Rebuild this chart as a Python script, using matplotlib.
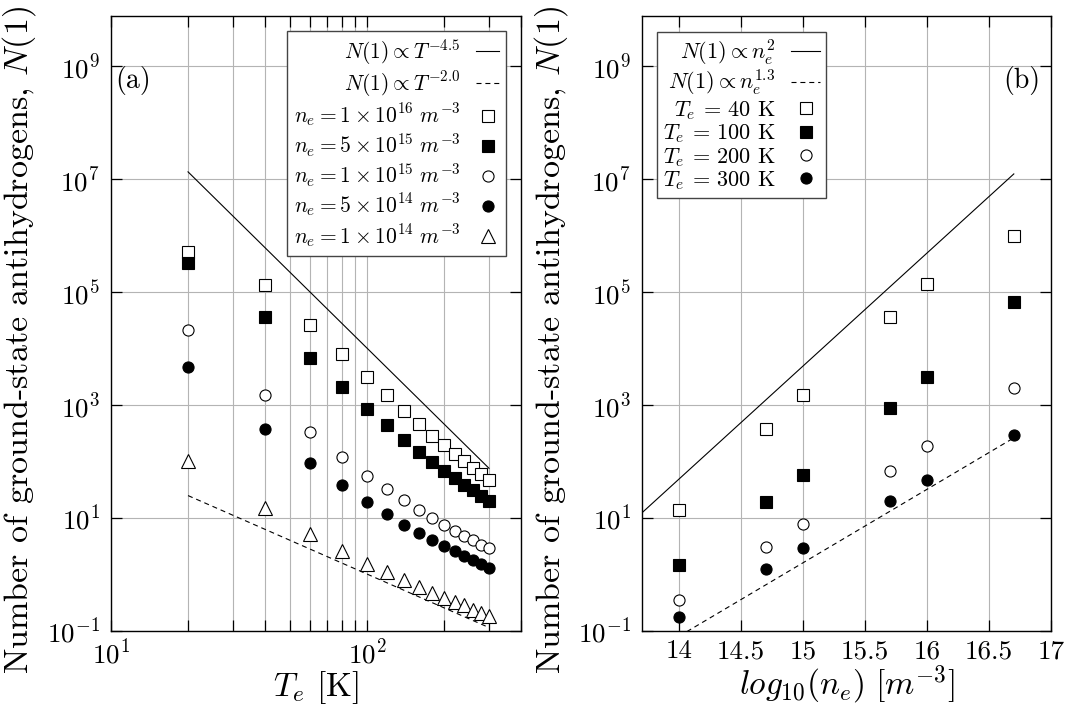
import matplotlib
matplotlib.use("Agg")
import matplotlib.pyplot as plt
from matplotlib.ticker import FixedLocator, NullLocator, NullFormatter, MultipleLocator, LogLocator, FuncFormatter

# ---------------- data: panel (a) ----------------
T_a = [20, 40, 60, 80, 100, 120, 140, 160, 180, 200, 220, 240, 260, 280, 300]
n_1e16 = [5.1e5, 1.35e5, 2.6e4, 7.9e3, 3.2e3, 1.5e3, 780, 460, 280, 195, 138, 102, 78, 60, 48]
n_5e15 = [3.3e5, 3.6e4, 6.9e3, 2.1e3, 870, 440, 240, 150, 100, 69, 51, 39, 31, 25, 20]
n_1e15 = [2.1e4, 1.5e3, 330, 120, 56, 33, 21, 13.8, 10, 7.6, 5.9, 4.8, 4.1, 3.4, 2.95]
n_5e14 = [4.8e3, 380, 93, 38, 19, 11.7, 7.6, 5.4, 4.1, 3.2, 2.6, 2.1, 1.78, 1.51, 1.29]
n_1e14 = [102, 14.8, 5.2, 2.6, 1.55, 1.1, 0.79, 0.60, 0.48, 0.38, 0.33, 0.29, 0.24, 0.21, 0.186]
fitA_T = [20, 300]
fitA_solid = [1.35e7, 76]      # N(1) ~ T^-4.5
fitA_dashed = [25, 0.115]      # N(1) ~ T^-2.0

# ---------------- data: panel (b) ----------------
log_ne = [14, 14.7, 15, 15.7, 16, 16.7]
T40 = [13.8, 370, 1.5e3, 3.6e4, 1.38e5, 9.8e5]
T100 = [1.45, 19, 58, 890, 3.2e3, 6.6e4]
T200 = [0.36, 3.1, 7.8, 69, 190, 2.0e3]
T300 = [0.178, 1.26, 2.9, 20, 47, 295]
fitB_solid_x = [13.7, 16.7]
fitB_solid = [12.4, 1.24e7]    # N(1) ~ n_e^2
fitB_dashed_x = [14, 16.7]
fitB_dashed = [0.081, 263]     # N(1) ~ n_e^1.3

yticks = [1e-1, 1e1, 1e3, 1e5, 1e7, 1e9]

plt.rcParams.update({
    "font.family": "cmr10",
    "mathtext.fontset": "cm",
    "axes.formatter.use_mathtext": True,
    "axes.linewidth": 1.0,
})

W, H = 1067, 709
fig = plt.figure(figsize=(W / 100, H / 100), dpi=100)
axA = fig.add_axes([111 / W, 78 / H, 410 / W, 615 / H])
axB = fig.add_axes([642 / W, 78 / H, 409 / W, 615 / H])

gridc = "#b4b4b4"
ms_sq, ms_c, ms_t = 8.5, 8.0, 9.5
mew = 0.8
dash = (0, (4.5, 3.5))


def open_kw(m, ms):
    return dict(ls="none", marker=m, ms=ms, mfc="white", mec="black", mew=mew)


def fill_kw(m, ms):
    return dict(ls="none", marker=m, ms=ms, mfc="black", mec="black", mew=mew)


leg_common = dict(markerfirst=False, numpoints=1, fancybox=False, edgecolor="#444444",
                  framealpha=1, borderaxespad=0.0)

# ---- panel (a)
axA.plot(fitA_T, fitA_solid, color="black", lw=0.8, label=r"$N(1)\propto T^{-4.5}$")
axA.plot(fitA_T, fitA_dashed, color="black", lw=0.8, ls=dash, label=r"$N(1)\propto T^{-2.0}$")
axA.plot(T_a, n_1e16, label=r"$n_e = 1\times10^{16}\ m^{-3}$", **open_kw("s", ms_sq))
axA.plot(T_a, n_5e15, label=r"$n_e = 5\times10^{15}\ m^{-3}$", **fill_kw("s", ms_sq - 0.5))
axA.plot(T_a, n_1e15, label=r"$n_e = 1\times10^{15}\ m^{-3}$", **open_kw("o", ms_c))
axA.plot(T_a, n_5e14, label=r"$n_e = 5\times10^{14}\ m^{-3}$", **fill_kw("o", ms_c))
axA.plot(T_a, n_1e14, label=r"$n_e = 1\times10^{14}\ m^{-3}$", **open_kw("^", ms_t))
axA.set_xscale("log")
axA.set_yscale("log")
axA.set_xlim(10, 400)
axA.set_ylim(0.1, 10 ** 9.89)
axA.xaxis.set_major_locator(LogLocator(base=10, numticks=10))
axA.xaxis.set_minor_locator(LogLocator(base=10, subs=range(2, 10), numticks=20))
axA.xaxis.set_minor_formatter(NullFormatter())
axA.grid(True, which="both", axis="x", color=gridc, lw=0.8)
axA.set_xlabel(r"$T_e$ [K]", fontsize=24, labelpad=0)
axA.text(0.01, 0.895, "(a)", transform=axA.transAxes, fontsize=20, ha="left", va="center")
legA = axA.legend(loc="upper right", bbox_to_anchor=(0.963, 0.976), fontsize=15.5,
                  handlelength=1.1, handletextpad=0.7, labelspacing=0.13, borderpad=0.3,
                  **leg_common)
legA.get_frame().set_linewidth(1.0)

# ---- panel (b)
axB.plot(fitB_solid_x, fitB_solid, color="black", lw=0.8, label=r"$N(1)\propto n_e^{2}$")
axB.plot(fitB_dashed_x, fitB_dashed, color="black", lw=0.8, ls=dash, label=r"$N(1)\propto n_e^{1.3}$")
axB.plot(log_ne, T40, label=r"$T_e$ = 40 K", **open_kw("s", ms_sq))
axB.plot(log_ne, T100, label=r"$T_e$ = 100 K", **fill_kw("s", ms_sq - 0.5))
axB.plot(log_ne, T200, label=r"$T_e$ = 200 K", **open_kw("o", ms_c))
axB.plot(log_ne, T300, label=r"$T_e$ = 300 K", **fill_kw("o", ms_c))
axB.set_yscale("log")
axB.set_xlim(13.7, 17)
axB.set_ylim(0.1, 10 ** 9.89)
axB.xaxis.set_major_locator(MultipleLocator(0.5))
axB.xaxis.set_major_formatter(FuncFormatter(lambda v, p: f"{v:g}"))
axB.grid(True, which="major", axis="x", color=gridc, lw=0.8)
axB.set_xlabel(r"$log_{10}(n_e)\ [m^{-3}]$", fontsize=24, labelpad=0)
axB.text(0.973, 0.895, "(b)", transform=axB.transAxes, fontsize=20, ha="right", va="center")
legB = axB.legend(loc="upper left", bbox_to_anchor=(0.037, 0.974), fontsize=16,
                  handlelength=1.3, handletextpad=0.7, labelspacing=0.03, borderpad=0.25,
                  **leg_common)
legB.get_frame().set_linewidth(1.0)

for ax in (axA, axB):
    ax.yaxis.set_major_locator(FixedLocator(yticks))
    ax.yaxis.set_minor_locator(NullLocator())
    ax.grid(True, which="major", axis="y", color=gridc, lw=0.8)
    ax.tick_params(which="both", direction="in", top=True, right=True,
                   length=8, width=0.9, labelsize=19.5)
    ax.tick_params(axis="x", which="both", pad=6)
    ax.tick_params(axis="y", which="both", pad=8)
    ax.set_axisbelow(True)

ylab = r"Number of ground-state antihydrogens, $N(1)$"
fig.text(19 / W, 1 - 340 / H, ylab, rotation=90, ha="center", va="center", fontsize=24.5)
fig.text(551 / W, 1 - 340 / H, ylab, rotation=90, ha="center", va="center", fontsize=24.5)

fig.savefig("out.png", dpi=100)
